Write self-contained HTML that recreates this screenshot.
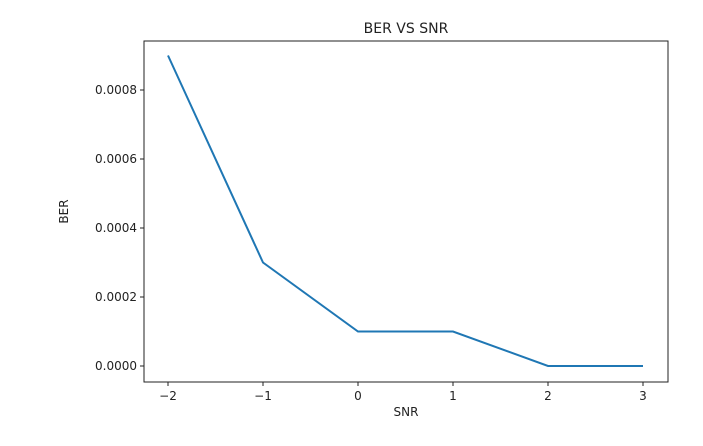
<!DOCTYPE html>
<html><head><meta charset="utf-8"><style>
body{margin:0;background:#fff;font-family:"Liberation Sans","DejaVu Sans",sans-serif}
svg text{font-family:"DejaVu Sans","Liberation Sans",sans-serif;font-size:12px;fill:#222}
</style></head><body>
<svg id="c" width="703" height="441"></svg>
<script>
const snr=[-2,-1,0,1,2,3];
const ber=[0.0009,0.0003,0.0001,0.0001,0,0];
const xTicks=[-2,-1,0,1,2,3];
const yTicks=[0,0.0002,0.0004,0.0006,0.0008];
const yTickLabels=["0.0000","0.0002","0.0004","0.0006","0.0008"];
const L=144,R=668,T=41,B=382;
const xs=v=>168+(v+2)*95;
const ys=v=>366-v/0.0008*276;
const svg=document.getElementById('c');
const NS='http://www.w3.org/2000/svg';
function mk(t,a,p){const e=document.createElementNS(NS,t);for(const k in a)e.setAttribute(k,a[k]);(p||svg).appendChild(e);return e;}
let e;
e=mk('text',{x:(L+R)/2,y:T-8,'text-anchor':'middle',style:'font-size:14px'});e.textContent='BER VS SNR';


xTicks.forEach(v=>{
 e=mk('line',{x1:xs(v),x2:xs(v),y1:B,y2:B+4,stroke:'#222','stroke-width':1});
 
 
 e=mk('text',{x:xs(v),y:B+18,'text-anchor':'middle'});e.textContent=v<0?'\u2212'+(-v):String(v);
 
 
});
yTicks.forEach((v,i)=>{
 e=mk('line',{x1:L-4,x2:L,y1:ys(v),y2:ys(v),stroke:'#222','stroke-width':1});
 
 
 e=mk('text',{x:L-7,y:ys(v)+4,'text-anchor':'end'});e.textContent=yTickLabels[i];
 
 
});
e=mk('text',{x:(L+R)/2,y:B+34,'text-anchor':'middle'});e.textContent='SNR';


e=mk('text',{x:68,y:(T+B)/2,'text-anchor':'middle',transform:`rotate(-90 68 ${(T+B)/2})`});e.textContent='BER';


e=mk('polyline',{points:snr.map((v,i)=>xs(v)+','+ys(ber[i])).join(' '),fill:'none',stroke:'#1f77b4','stroke-width':2});


e=mk('rect',{x:L,y:T,width:R-L,height:B-T,fill:'none',stroke:'#222','stroke-width':1});


</script>
</body></html>
